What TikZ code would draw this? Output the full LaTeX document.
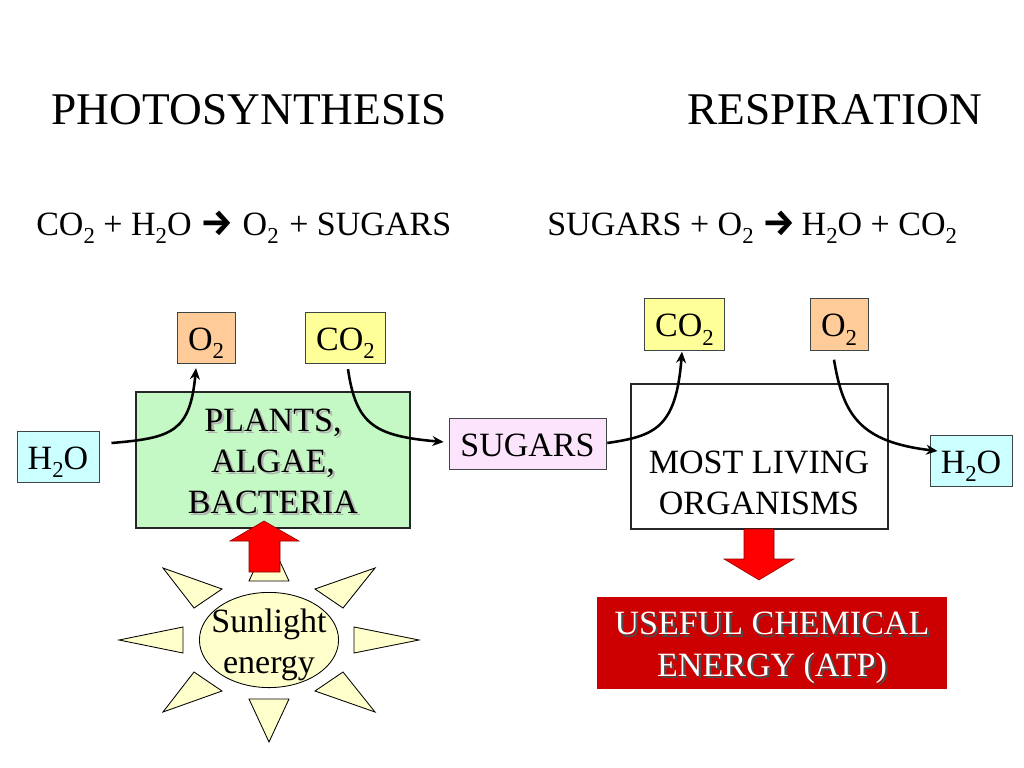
\documentclass[tikz,border=0pt]{standalone}
\usepackage{fontspec}
\setmainfont{Liberation Serif}
\newfontfamily\arrowfont{Fira Sans}
\usetikzlibrary{positioning,calc,arrows.meta,shapes.geometric}
\definecolor{waterBlue}{RGB}{204, 255, 255}
\definecolor{oxyOrange}{RGB}{255, 204, 153}
\definecolor{carbonYellow}{RGB}{255, 255, 153}
\definecolor{sugarPink}{RGB}{252, 228, 252}
\definecolor{plantGreen}{RGB}{196, 248, 196}
\definecolor{sunCream}{RGB}{255, 255, 204}
\definecolor{atpRed}{RGB}{204, 0, 0}
\definecolor{edgeDark}{RGB}{60, 70, 70}
\newcommand{\dn}[1]{\raisebox{-.24em}{\scalebox{.67}{#1}}}
\newcommand{\shadetext}[2]{\leavevmode\rlap{\raisebox{-1.6pt}{\hspace{1.6pt}\textcolor{#1}{#2}}}#2}
\newcommand{\yields}{{\arrowfont\bfseries\fontsize{26}{24}\selectfont→}}

\begin{document}
\begin{tikzpicture}[
  x=.0248cm,y=-.0248cm,
  every node/.style={align=center, inner sep=0pt, font=\fontsize{24}{29}\selectfont},
  title/.style={anchor=base west, font=\fontsize{32}{38}\selectfont\addfontfeature{Kerning=Off}},
  formula/.style={anchor=base west},
  chem/.style={draw=edgeDark, line width=.5pt, minimum height=1.28cm, text height=17.6pt, text depth=0pt},
  bigbox/.style={draw=black!85, line width=1.5pt},
  flow/.style={-{Stealth[length=8pt,width=7pt]}, line width=1.8pt},
  ray/.style={draw=black, line width=.6pt, fill=sunCream},
  bigarrow/.style={draw=red!55!black, line width=.4pt, fill=red}
]
\node[title] (photoTitle) at (51,125) {PHOTOSYNTHESIS};
\node[title] (respTitle) at (687,125) {RESPIRATION};

\node[formula] (photoEq) at (36,235) {CO\dn{2} + H\dn{2}O \yields\hspace{6.6pt}O\dn{2}\hspace{1.5pt} + SUGARS};
\node[formula] (respEq) at (547,235) {SUGARS + O\dn{2} \yields\hspace{4.5pt}H\dn{2}O + CO\dn{2}};

% left side
\node[chem, fill=oxyOrange, minimum width=1.44cm] (oxyA) at (206,338) {O\dn{2}};
\node[chem, fill=carbonYellow, minimum width=2cm] (carbonA) at (345.5,338) {CO\dn{2}};
\node[chem, fill=waterBlue, minimum width=2.04cm] (waterA) at (58,457) {H\dn{2}O};
\node[bigbox, fill=plantGreen, minimum width=6.79cm, minimum height=3.37cm] (plants) at (273,460) {};
\node (plantsText) at (273,462.5)
  {\shadetext{black!30}{PLANTS,}\\\shadetext{black!30}{ALGAE,}\\\shadetext{black!30}{BACTERIA}};
\node[chem, fill=sugarPink, minimum width=3.89cm] (sugars) at (527.5,444) {SUGARS};

\draw[flow] ([shift={(12,-14)}]waterA.east) .. controls (172,438) and (190,432) .. ([shift={(-10,4)}]oxyA.south);
\draw[flow] ([shift={(2.5,5)}]carbonA.south) .. controls (356,425) and (375,436) .. ([shift={(-5,-2)}]sugars.west);

% sun
\draw[ray] (249,581) -- (269,538) -- (289,581) -- cycle;
\draw[ray] (249,699) -- (269,742) -- (289,699) -- cycle;
\draw[ray] (183,627) -- (119,640) -- (183,653) -- cycle;
\draw[ray] (354,627) -- (419,640) -- (354,653) -- cycle;
\draw[ray] (163,568) -- (222,589) -- (194,608) -- cycle;
\draw[ray] (375,568) -- (315,589) -- (343,608) -- cycle;
\draw[ray] (163,712) -- (222,691) -- (194,672) -- cycle;
\draw[ray] (375,712) -- (315,691) -- (343,672) -- cycle;
\node[ellipse, draw=black, line width=.6pt, fill=sunCream, minimum width=3.45cm, minimum height=2.36cm] (sun) at (269,640) {};
\node (sunText) at (269,645) {Sunlight\\energy};
\draw[bigarrow] (249,572) -- (249,541) -- (230,541) -- (264,521) -- (299,541) -- (280,541) -- (280,572) -- cycle;

% right side
\node[chem, fill=carbonYellow, minimum width=2cm] (carbonB) at (684.5,324.5) {CO\dn{2}};
\node[chem, fill=oxyOrange, minimum width=1.44cm] (oxyB) at (839,324.5) {O\dn{2}};
\node[bigbox, fill=white, minimum width=6.37cm, minimum height=3.6cm] (organisms) at (759.5,456.5) {};
\node (organismsText) at (759,483) {MOST LIVING\\ORGANISMS};
\node[chem, fill=waterBlue, minimum width=2.04cm] (waterB) at (971,461) {H\dn{2}O};

\draw[flow] ([shift={(1,-1)}]sugars.east) .. controls (655,436) and (676,428) .. ([shift={(-2.5,1)}]carbonB.south);
\draw[flow] ([shift={(-5,9)}]oxyB.south) .. controls (843,415) and (860,442) .. ([shift={(8,-10)}]waterB.west);

\draw[bigarrow] (744,529) -- (744,559) -- (724,559) -- (759,580) -- (794,559) -- (774,559) -- (774,529) -- cycle;
\node[fill=atpRed, minimum width=8.68cm, minimum height=2.28cm] (atp) at (772,643) {};
\node[text=white] (atpText) at (772,649)
  {\shadetext{black!70}{USEFUL CHEMICAL}\\\shadetext{black!70}{ENERGY (ATP)}};
\path[use as bounding box] (0,0) rectangle (1024,768);
\end{tikzpicture}
\end{document}
